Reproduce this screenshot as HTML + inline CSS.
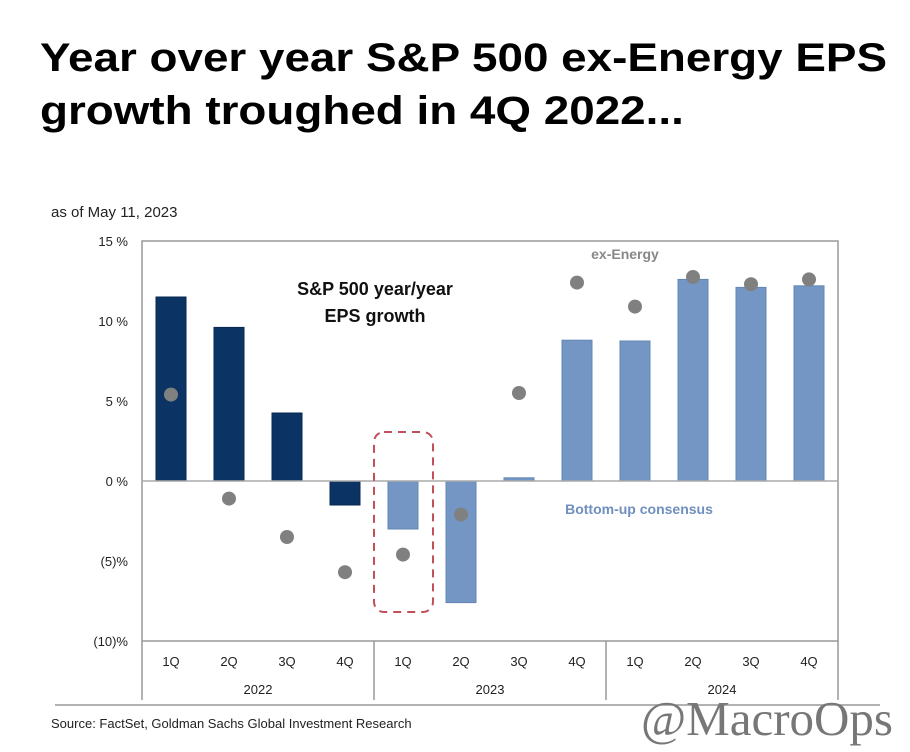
<!DOCTYPE html>
<html><head><meta charset="utf-8"><style>
body{margin:0;background:#fff;width:910px;height:752px;overflow:hidden;font-family:"Liberation Sans",sans-serif}
</style></head><body>
<div style="position:absolute;left:40px;top:32px;font-size:40px;font-weight:bold;line-height:53px;color:#000;transform:scaleX(1.145);transform-origin:left top;white-space:nowrap">Year over year S&amp;P 500 ex-Energy EPS<br>growth troughed in 4Q 2022...</div>
<svg id="c" width="910" height="752" style="position:absolute;left:0;top:0" font-family="Liberation Sans, sans-serif">
<g id="d"></g>
<text x="51" y="217" font-size="15" fill="#222">as of May 11, 2023</text>
<text x="375" y="295" font-size="18" font-weight="bold" text-anchor="middle" fill="#111">S&amp;P 500 year/year</text>
<text x="375" y="322" font-size="18" font-weight="bold" text-anchor="middle" fill="#111">EPS growth</text>
<text x="625" y="259" font-size="14" font-weight="bold" text-anchor="middle" fill="#888">ex-Energy</text>
<text x="639" y="514" font-size="14" font-weight="bold" text-anchor="middle" fill="#6f8fbf">Bottom-up consensus</text>
<rect x="374" y="432" width="59" height="180" rx="10" fill="none" stroke="#c0505a" stroke-width="2" stroke-dasharray="8,6"/>
<line x1="55" y1="705" x2="880" y2="705" stroke="#999" stroke-width="1.5"/>
<text x="51" y="728" font-size="13" fill="#222">Source: FactSet, Goldman Sachs Global Investment Research</text>
<text x="641" y="735" font-size="49" font-family="Liberation Serif, serif" fill="#777">@MacroOps</text>
</svg>
<script>
const categories=["1Q","2Q","3Q","4Q","1Q","2Q","3Q","4Q","1Q","2Q","3Q","4Q"];
const years=["2022","2023","2024"];
const epsGrowth=[11.5,9.6,4.25,-1.5,-3.0,-7.6,0.2,8.8,8.75,12.6,12.1,12.2];
const exEnergy=[5.4,-1.1,-3.5,-5.7,-4.6,-2.1,5.5,12.4,10.9,12.75,12.3,12.6];
const yTicks=[15,10,5,0,-5,-10];
const yTickLabels=["15 %","10 %","5 %","0 %","(5)%","(10)%"];
const g=document.getElementById('d');
const NS='http://www.w3.org/2000/svg';
const L=142,R=838,T=241,B=641;
const y=v=>481-v*16;
const bw=(R-L)/categories.length;
const x=i=>L+bw*(i+0.5);
function mk(t,a){const e=document.createElementNS(NS,t);for(const k in a)e.setAttribute(k,a[k]);g.appendChild(e);return e;}
let e;
e=mk('rect',{x:L,y:T,width:R-L,height:B-T,fill:'none',stroke:'#999','stroke-width':1.5});


e=mk('line',{x1:L,y1:B,x2:L,y2:700,stroke:'#999','stroke-width':1.5});


e=mk('line',{x1:R,y1:B,x2:R,y2:700,stroke:'#999','stroke-width':1.5});


yTicks.forEach((v,i)=>{
 e=mk('text',{x:L-14,y:y(v)+5,'font-size':13,'text-anchor':'end',fill:'#222'});
 e.textContent=yTickLabels[i];
 
 
});
epsGrowth.forEach((v,i)=>{
 const top=Math.min(y(v),y(0)),h=Math.abs(y(v)-y(0));
 e=mk('rect',{x:x(i)-15,y:top,width:30,height:Math.max(h,1.5),fill:i<4?'#0b3363':'#7496c4',stroke:i<4?'#0a2a52':'#6585b2','stroke-width':1});
 
 
 e=mk('text',{x:x(i),y:666,'font-size':13,'text-anchor':'middle',fill:'#222'});
 e.textContent=categories[i];
 
 
});
e=mk('line',{x1:L,y1:y(0),x2:R,y2:y(0),stroke:'#aaa','stroke-width':1.5});


exEnergy.forEach((v,i)=>{
 e=mk('circle',{cx:x(i),cy:y(v),r:7,fill:'#808080'});
 
 
});
years.forEach((yr,j)=>{
 e=mk('text',{x:L+bw*(4*j+2),y:694,'font-size':13,'text-anchor':'middle',fill:'#222'});
 e.textContent=yr;
 
 
 if(j>0){
  e=mk('line',{x1:L+bw*4*j,y1:B,x2:L+bw*4*j,y2:700,stroke:'#999','stroke-width':1.5});
  
  
 }
});
</script>
</body></html>
